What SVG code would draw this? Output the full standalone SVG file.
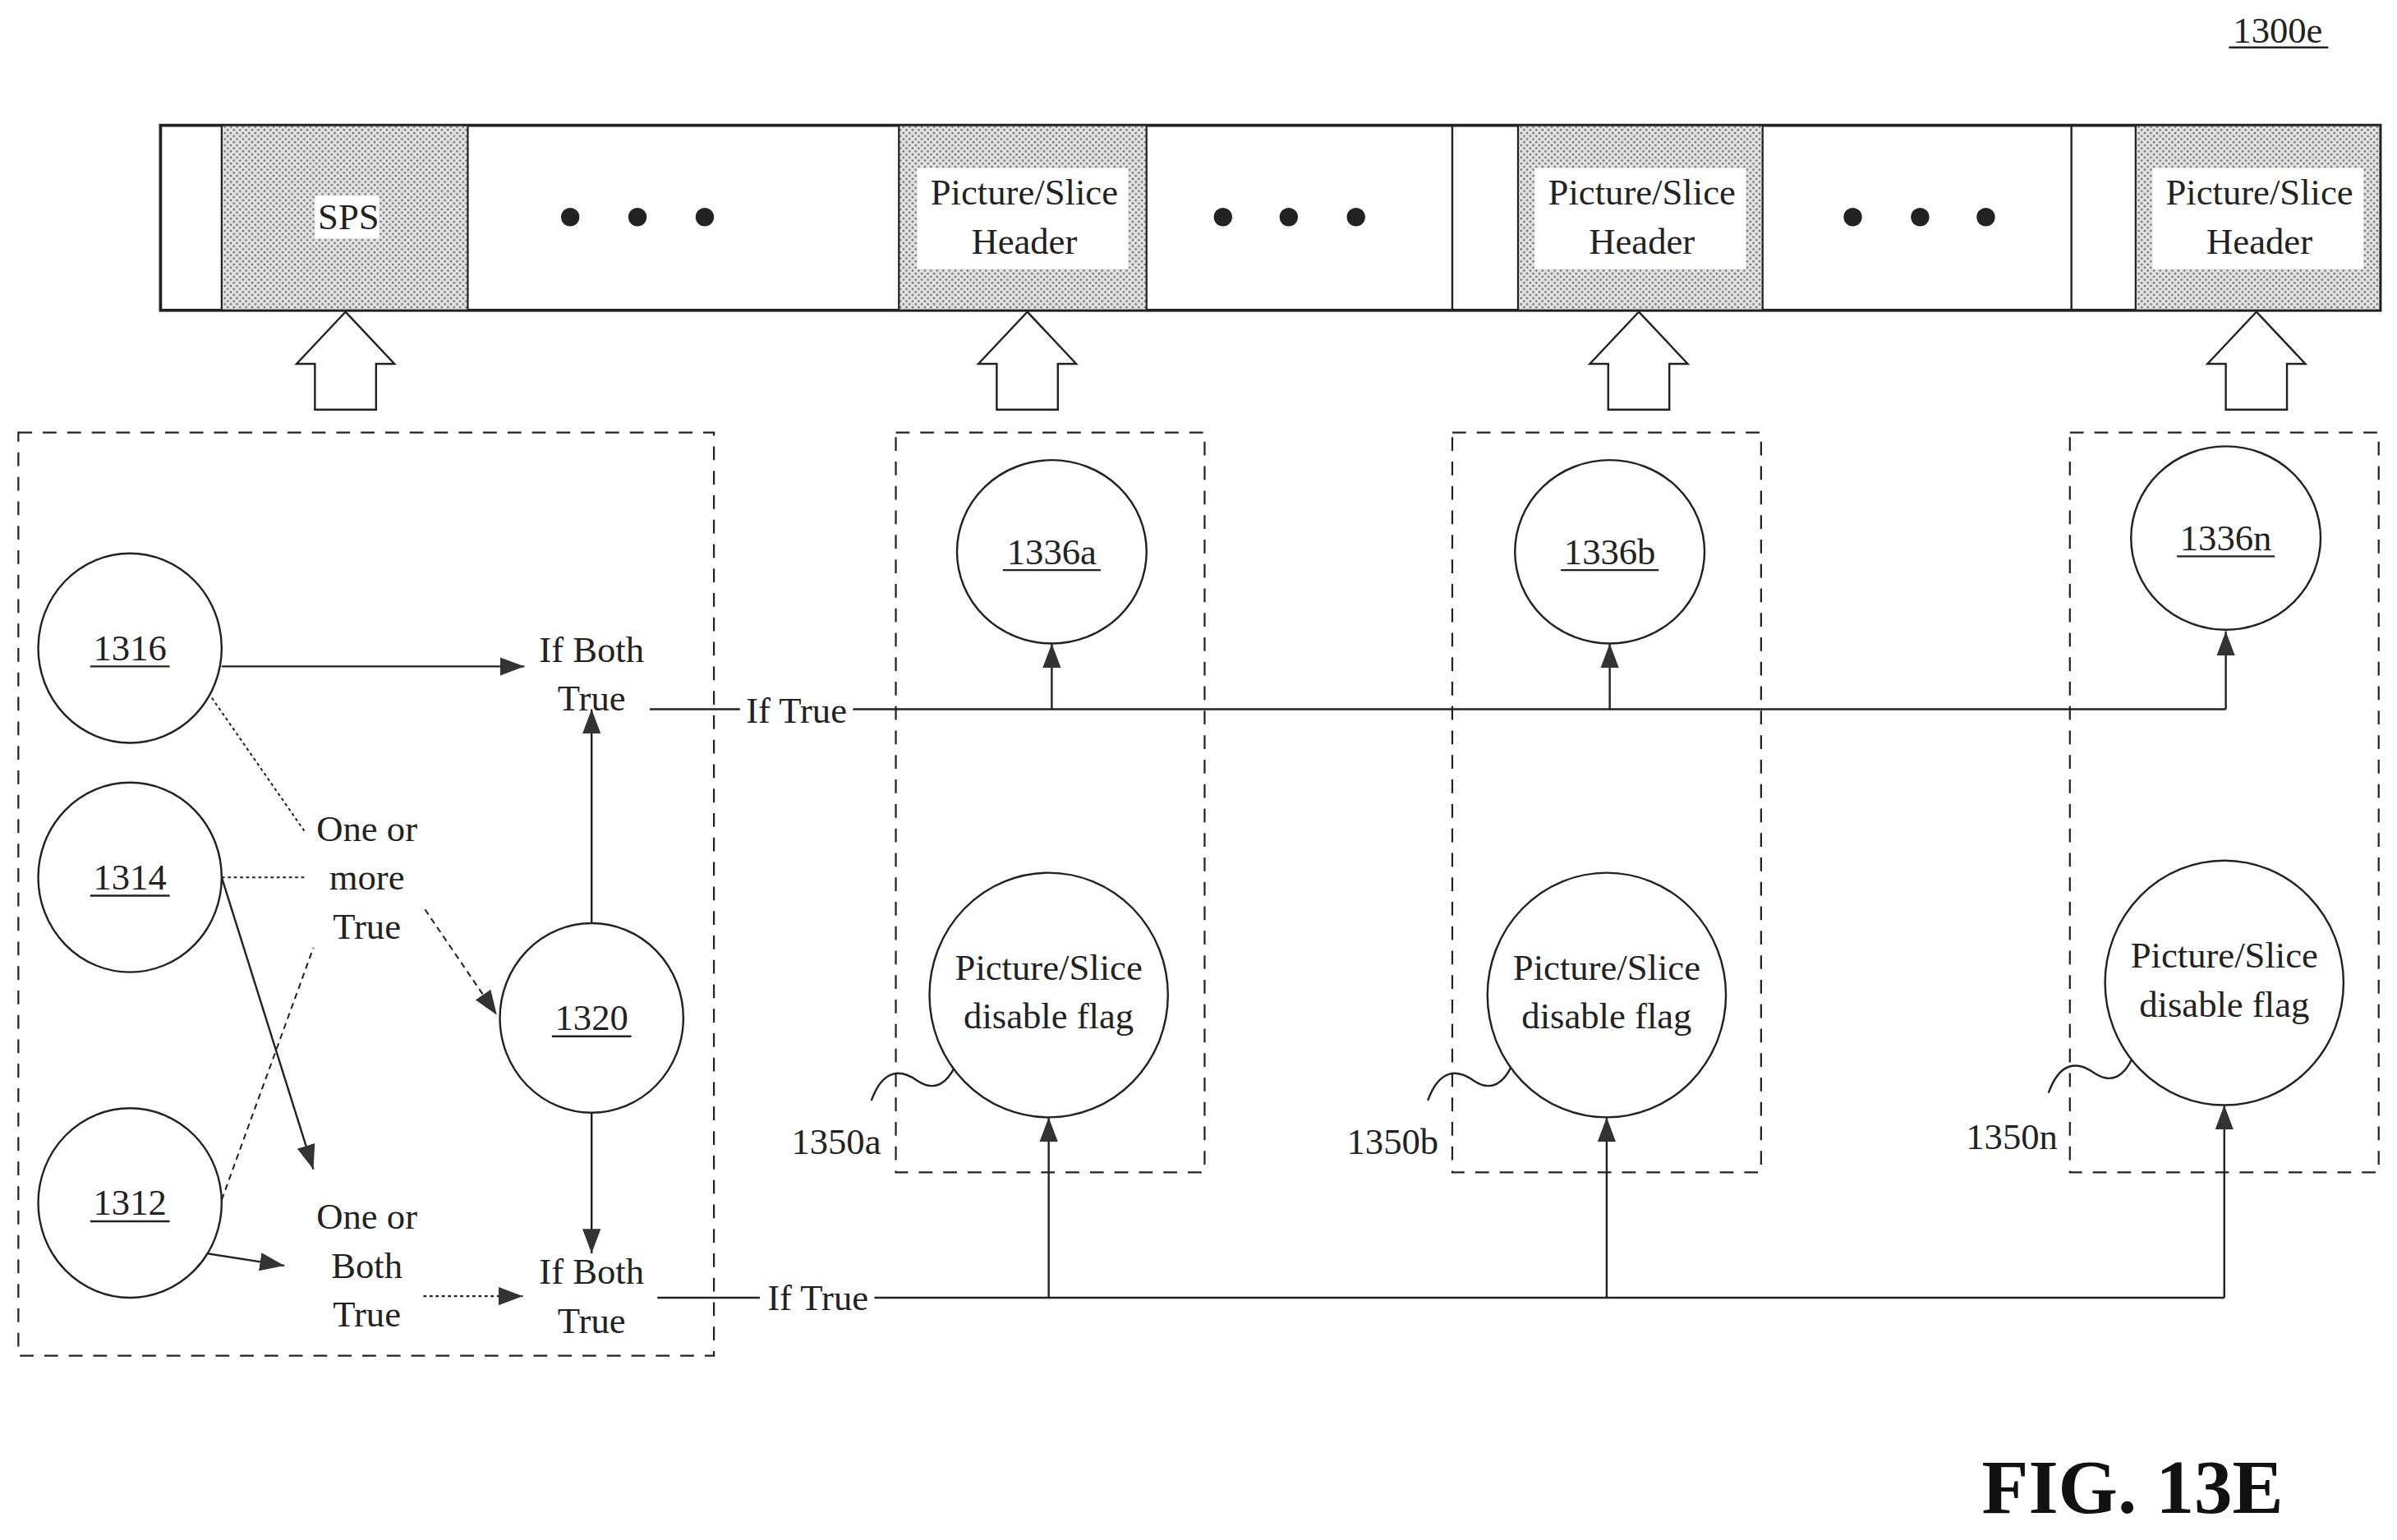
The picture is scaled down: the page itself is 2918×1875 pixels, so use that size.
<svg xmlns="http://www.w3.org/2000/svg" width="2918" height="1875" viewBox="0 0 2918 1875">
<style>
text{font-family:"Liberation Serif",serif;font-size:24px;fill:#222;text-anchor:middle}
.n{fill:#fff;stroke:#222;stroke-width:1.3}
.d{fill:none;stroke:#222;stroke-width:1.2;stroke-dasharray:9,7}
.l{fill:none;stroke:#222;stroke-width:1.3}
.dot{fill:none;stroke:#222;stroke-width:1.1;stroke-dasharray:2,2}
.dsh{fill:none;stroke:#222;stroke-width:1.1;stroke-dasharray:4,3}
.ha{fill:#fff;stroke:#222;stroke-width:1.3}
</style>
<defs>
<pattern id="st" width="4" height="4" patternUnits="userSpaceOnUse"><rect width="4" height="4" fill="#e4e4e4"/><circle cx="1" cy="1" r="0.8" fill="#777"/><circle cx="3" cy="3" r="0.8" fill="#777"/></pattern>
<marker id="b" markerWidth="16" markerHeight="12" refX="16" refY="6" orient="auto" markerUnits="userSpaceOnUse"><path d="M0,0 L16,6 L0,12 z" fill="#333"/></marker>
</defs>
<rect width="2918" height="1875" fill="#fff"/>
<g transform="scale(1.861)">
<g id="label1300e"><text x="1490" y="28">1300e</text><line x1="1458" y1="31" x2="1523" y2="31" class="l"/></g>
<g id="bitstream">
<rect x="105" y="82" width="1452" height="121" fill="#fff" stroke="#222" stroke-width="2"/>
<rect x="145" y="82" width="161" height="121" fill="url(#st)" stroke="#222" stroke-width="1.2"/>
<rect x="588" y="82" width="162" height="121" fill="url(#st)" stroke="#222" stroke-width="1.2"/>
<rect x="993" y="82" width="160" height="121" fill="url(#st)" stroke="#222" stroke-width="1.2"/>
<rect x="1397" y="82" width="160" height="121" fill="url(#st)" stroke="#222" stroke-width="1.2"/>
<line x1="950" y1="82" x2="950" y2="203" class="l"/><line x1="1355" y1="82" x2="1355" y2="203" class="l"/>
<rect x="206" y="128" width="42" height="28" fill="#fff"/><text x="228" y="150">SPS</text>
<rect x="600" y="110" width="138" height="66" fill="#fff"/><text x="670" y="134">Picture/Slice</text><text x="670" y="166">Header</text>
<rect x="1004" y="110" width="138" height="66" fill="#fff"/><text x="1074" y="134">Picture/Slice</text><text x="1074" y="166">Header</text>
<rect x="1408" y="110" width="138" height="66" fill="#fff"/><text x="1478" y="134">Picture/Slice</text><text x="1478" y="166">Header</text>
<g fill="#222"><circle cx="373" cy="142" r="6"/><circle cx="417" cy="142" r="6"/><circle cx="461" cy="142" r="6"/><circle cx="800" cy="142" r="6"/><circle cx="843" cy="142" r="6"/><circle cx="887" cy="142" r="6"/><circle cx="1212" cy="142" r="6"/><circle cx="1256" cy="142" r="6"/><circle cx="1299" cy="142" r="6"/></g>
</g>
<g id="hollow-arrows">
<path class="ha" d="M226,204 L258,238 L246,238 L246,268 L206,268 L206,238 L194,238 Z"/>
<path class="ha" d="M672,204 L704,238 L692,238 L692,268 L652,268 L652,238 L640,238 Z"/>
<path class="ha" d="M1072,204 L1104,238 L1092,238 L1092,268 L1052,268 L1052,238 L1040,238 Z"/>
<path class="ha" d="M1476,204 L1508,238 L1496,238 L1496,268 L1456,268 L1456,238 L1444,238 Z"/>
</g>
<g id="boxes">
<rect class="d" x="12" y="283" width="455" height="604"/>
<rect class="d" x="586" y="283" width="202" height="484"/>
<rect class="d" x="950" y="283" width="202" height="484"/>
<rect class="d" x="1354" y="283" width="202" height="484"/>
</g>
<g id="connectors">
<line class="l" x1="145" y1="436" x2="343" y2="436" marker-end="url(#b)"/>
<line class="l" x1="425" y1="464" x2="484" y2="464"/>
<line class="l" x1="558" y1="464" x2="1456" y2="464"/>
<line class="l" x1="688" y1="464" x2="688" y2="421" marker-end="url(#b)"/>
<line class="l" x1="1053" y1="464" x2="1053" y2="421" marker-end="url(#b)"/>
<line class="l" x1="1456" y1="464" x2="1456" y2="413" marker-end="url(#b)"/>
<line class="l" x1="387" y1="604" x2="387" y2="464" marker-end="url(#b)"/>
<line class="l" x1="387" y1="728" x2="387" y2="820" marker-end="url(#b)"/>
<line class="l" x1="430" y1="849" x2="497" y2="849"/>
<line class="l" x1="572" y1="849" x2="1455" y2="849"/>
<line class="l" x1="686" y1="849" x2="686" y2="731" marker-end="url(#b)"/>
<line class="l" x1="1051" y1="849" x2="1051" y2="731" marker-end="url(#b)"/>
<line class="l" x1="1455" y1="849" x2="1455" y2="723" marker-end="url(#b)"/>
<line class="dot" x1="134" y1="450" x2="200" y2="545"/>
<line class="dot" x1="145" y1="574" x2="200" y2="574"/>
<line class="dsh" x1="145" y1="785" x2="205" y2="620"/>
<line class="dsh" x1="278" y1="595" x2="325" y2="664" marker-end="url(#b)"/>
<line class="l" x1="145" y1="574" x2="205" y2="765" stroke-width="2" marker-end="url(#b)"/>
<line class="l" x1="135" y1="820" x2="186" y2="828" stroke-width="2" marker-end="url(#b)"/>
<line class="dot" x1="277" y1="848" x2="342" y2="848" marker-end="url(#b)"/>
<path class="l" d="M570,720 C578,698 590,700 600,707 C612,715 620,708 625,697"/>
<path class="l" d="M934,720 C942,698 954,700 964,707 C976,715 984,708 989,697"/>
<path class="l" d="M1340,715 C1348,693 1360,695 1370,702 C1382,710 1390,703 1395,692"/>
</g>
<g id="n1316"><ellipse class="n" cx="85" cy="424" rx="60" ry="62"/><text x="85" y="432">1316</text><line class="l" x1="59" y1="436" x2="111" y2="436"/></g>
<g id="n1314"><ellipse class="n" cx="85" cy="574" rx="60" ry="62"/><text x="85" y="582">1314</text><line class="l" x1="59" y1="586" x2="111" y2="586"/></g>
<g id="n1312"><ellipse class="n" cx="85" cy="787" rx="60" ry="62"/><text x="85" y="795">1312</text><line class="l" x1="59" y1="799" x2="111" y2="799"/></g>
<g id="n1320"><ellipse class="n" cx="387" cy="666" rx="60" ry="62"/><text x="387" y="674">1320</text><line class="l" x1="361" y1="678" x2="413" y2="678"/></g>
<g id="n1336a"><ellipse class="n" cx="688" cy="361" rx="62" ry="60"/><text x="688" y="369">1336a</text><line class="l" x1="656" y1="373" x2="720" y2="373"/></g>
<g id="n1336b"><ellipse class="n" cx="1053" cy="361" rx="62" ry="60"/><text x="1053" y="369">1336b</text><line class="l" x1="1021" y1="373" x2="1085" y2="373"/></g>
<g id="n1336n"><ellipse class="n" cx="1456" cy="352" rx="62" ry="60"/><text x="1456" y="360">1336n</text><line class="l" x1="1424" y1="364" x2="1488" y2="364"/></g>
<g id="n1350a"><ellipse class="n" cx="686" cy="651" rx="78" ry="80"/><text x="686" y="641">Picture/Slice</text><text x="686" y="673">disable flag</text></g>
<g id="n1350b"><ellipse class="n" cx="1051" cy="651" rx="78" ry="80"/><text x="1051" y="641">Picture/Slice</text><text x="1051" y="673">disable flag</text></g>
<g id="n1350n"><ellipse class="n" cx="1455" cy="643" rx="78" ry="80"/><text x="1455" y="633">Picture/Slice</text><text x="1455" y="665">disable flag</text></g>
<g id="labels">
<text x="387" y="433">If Both</text><text x="387" y="465">True</text>
<text x="240" y="550">One or</text><text x="240" y="582">more</text><text x="240" y="614">True</text>
<text x="240" y="804">One or</text><text x="240" y="836">Both</text><text x="240" y="868">True</text>
<text x="387" y="840">If Both</text><text x="387" y="872">True</text>
<text x="521" y="473">If True</text><text x="535" y="857">If True</text>
<text x="547" y="755">1350a</text><text x="911" y="755">1350b</text><text x="1316" y="752">1350n</text>
<text x="1395" y="990" style="font-size:50px;font-weight:bold;fill:#111">FIG. 13E</text>
</g>
</g>
</svg>
